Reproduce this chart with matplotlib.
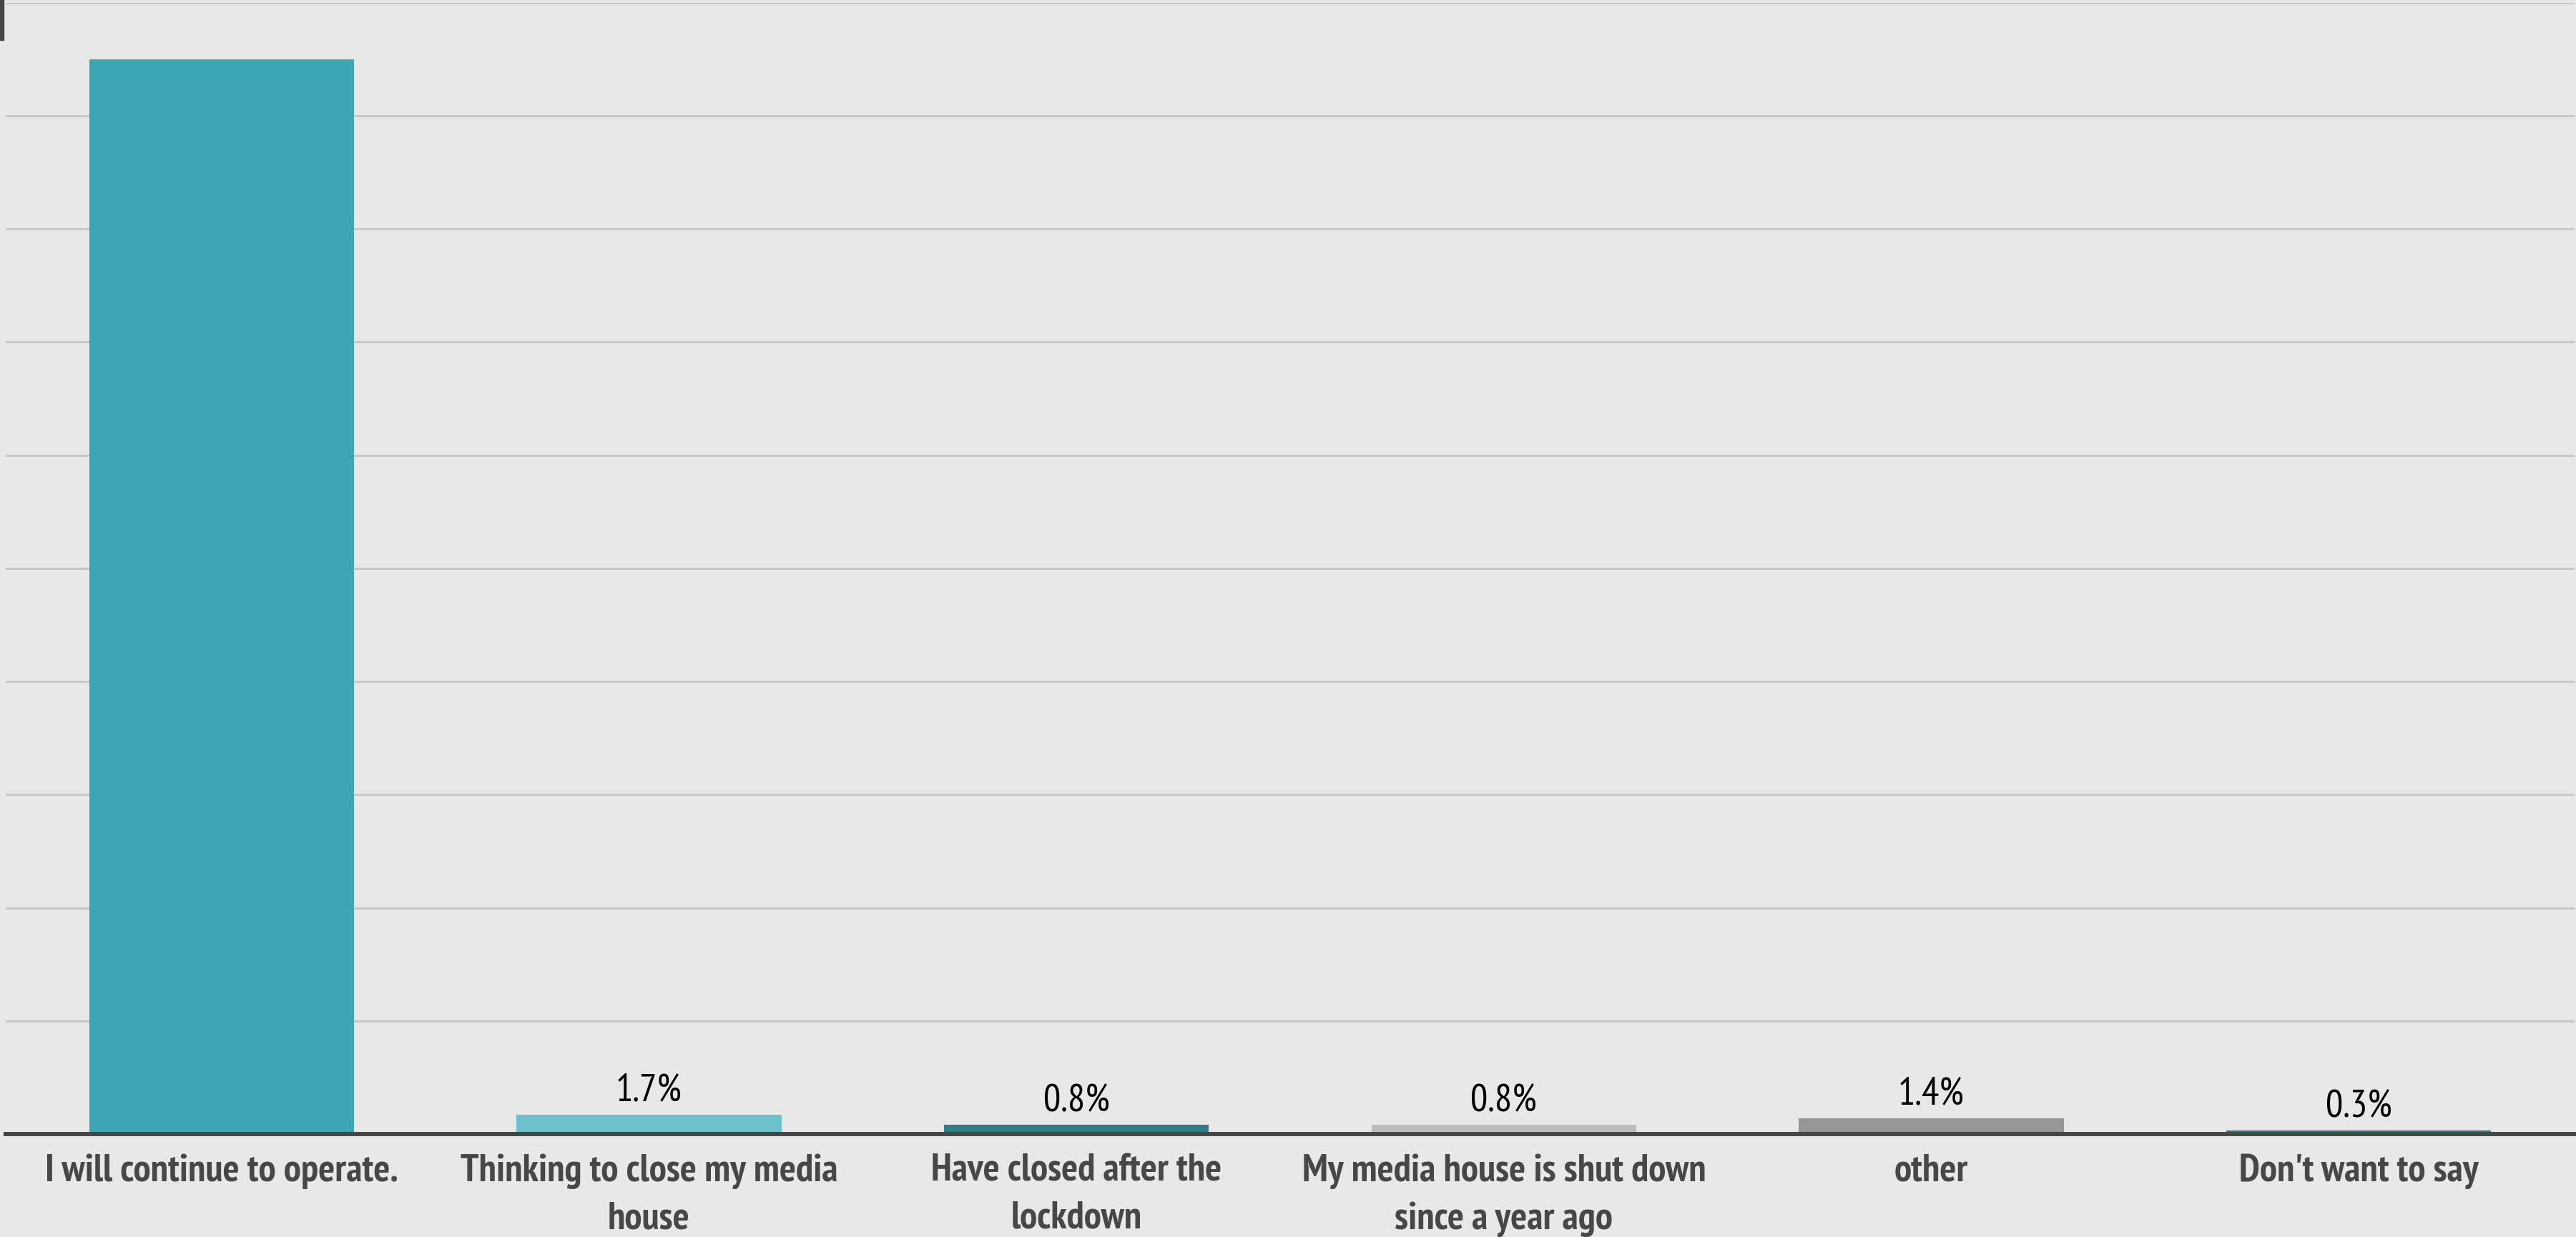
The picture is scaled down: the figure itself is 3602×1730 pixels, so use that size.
import matplotlib
matplotlib.use('Agg')
from matplotlib import pyplot as plt
from matplotlib.patches import Rectangle

categories = ['I will continue to operate.', 'Thinking to close my media\nhouse',
              'Have closed after the\nlockdown', 'My media house is shut down\nsince a year ago',
              'other', "Don't want to say"]
values = [95.0, 1.7, 0.8, 0.8, 1.4, 0.3]
labels = ['95.0%', '1.7%', '0.8%', '0.8%', '1.4%', '0.3%']
colors = ['#3BA7B5', '#6BC1CC', '#2D7F87', '#BDBDBD', '#969696', '#2D7F87']
yticks = [0, 10, 20, 30, 40, 50, 60, 70, 80, 90, 100]

bg = '#E7E8E7'
font = ['PT Sans Narrow', 'DejaVu Sans']

fig = plt.figure(figsize=(36.02, 17.30), dpi=100, facecolor=bg)
ax = fig.add_axes([8/3602, 1 - 1586/1730, (3600 - 8)/3602, (1586 - 3.5)/1730])
ax.set_facecolor(bg)

x = range(len(categories))
ax.bar(x, values, width=0.62, color=colors, zorder=3)

for i, (v, lab) in enumerate(zip(values, labels)):
    if i == 0:
        continue  # label sits outside the plot in the original
    ax.annotate(lab, (i, v), xytext=(0, 6), textcoords='offset points',
                ha='center', va='bottom', fontsize=39, color='black', family=font)

ax.set_xlim(-0.505, 5.505)
ax.set_ylim(0, 100)
ax.set_yticks(yticks)
ax.set_yticklabels([])
ax.tick_params(axis='y', length=0)
ax.grid(axis='y', color='#C6C7C6', linewidth=2.2, zorder=0)
ax.set_axisbelow(True)

ax.set_xticks(list(x))
ax.set_xticklabels(categories, fontsize=39, fontweight='bold', color='#474747',
                   family=font, linespacing=1.45)
ax.tick_params(axis='x', length=0, pad=20)

for s in ['top', 'right', 'left']:
    ax.spines[s].set_visible(False)
ax.spines['bottom'].set_color('#474747')
ax.spines['bottom'].set_linewidth(4.3)
ax.spines['bottom'].set_zorder(4)

# small dark marker at top-left corner
fig.patches.append(Rectangle((0, 1 - 56/1730), 5/3602, 56/1730,
                             transform=fig.transFigure, color='#474747'))

fig.savefig('out.png', dpi=100, facecolor=bg)
